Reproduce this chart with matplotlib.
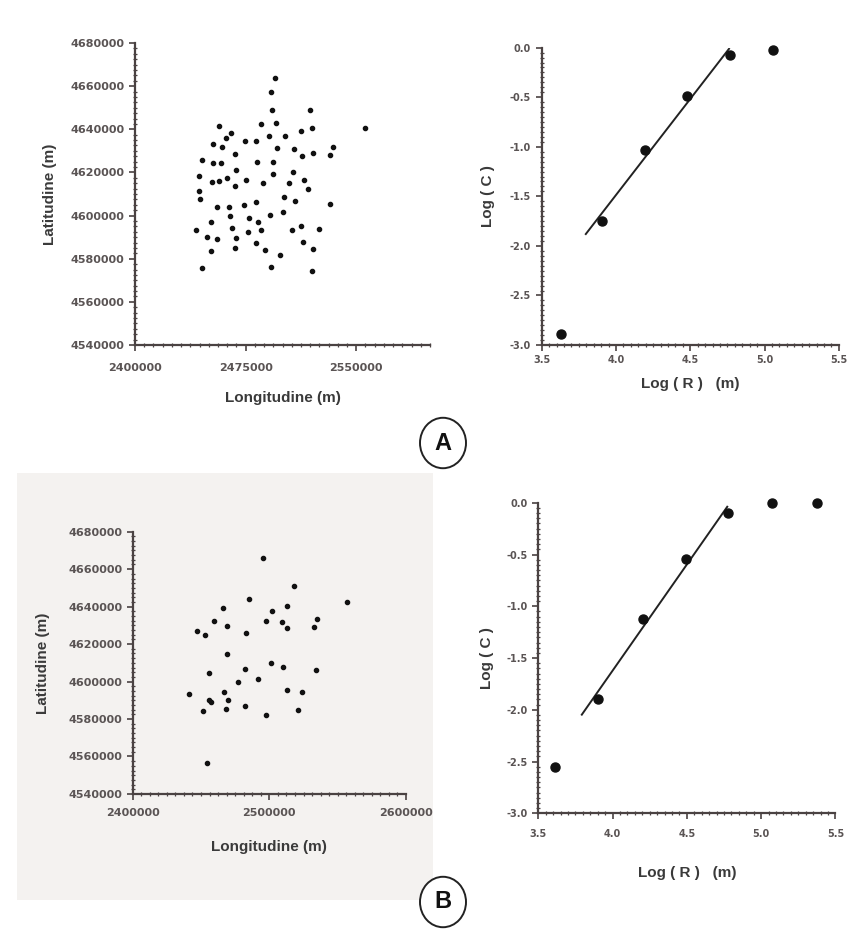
import numpy as np
import matplotlib
matplotlib.use("Agg")
import matplotlib.pyplot as plt
from matplotlib.ticker import AutoMinorLocator, FormatStrFormatter, MultipleLocator
from matplotlib.patches import Rectangle, Circle

plt.rcParams['font.family'] = ['Liberation Sans', 'DejaVu Sans']
plt.rcParams['axes.unicode_minus'] = False

# --- panel A: station positions ---
lon_a = [2494800, 2492300, 2493000, 2518900, 2485600, 2495700, 2457000, 2520000,
         2512600, 2556100, 2465300, 2461500, 2490800, 2502000, 2474800, 2482200,
         2452900, 2459200, 2496400, 2507700, 2534400, 2467600, 2513100, 2520500,
         2532400, 2445700, 2452900, 2458100, 2482900, 2493500, 2468200, 2507000,
         2443500, 2493500, 2452300, 2457000, 2462400, 2475400, 2486700, 2504300,
         2514400, 2468000, 2517600, 2443500, 2444400, 2500700, 2508600, 2482200,
         2473900, 2532400, 2455900, 2463700, 2491200, 2500200, 2464200, 2477200,
         2483300, 2451400, 2441200, 2465800, 2476600, 2485100, 2506300, 2512600,
         2524500, 2448900, 2455900, 2468700, 2481800, 2513700, 2451400, 2468000,
         2487800, 2520500, 2498000, 2445700, 2491900, 2520000]
lat_a = [4663800, 4657300, 4649100, 4649100, 4642600, 4642900, 4641300, 4640700,
         4639300, 4640600, 4638500, 4635900, 4636700, 4636700, 4634700, 4634700,
         4633300, 4631700, 4631300, 4631000, 4632000, 4628600, 4627400, 4629000,
         4628200, 4625900, 4624300, 4624600, 4624800, 4624800, 4621200, 4620400,
         4618400, 4619400, 4615800, 4616100, 4617400, 4616600, 4615300, 4615300,
         4616300, 4613900, 4612200, 4611600, 4607600, 4608800, 4606800, 4606200,
         4605000, 4605400, 4604200, 4604200, 4600300, 4601700, 4599900, 4598800,
         4597200, 4596800, 4593100, 4594100, 4592600, 4593400, 4593400, 4595200,
         4593700, 4590000, 4589200, 4589800, 4587200, 4587800, 4583800, 4584900,
         4584100, 4584400, 4581800, 4575600, 4576400, 4574500]

# --- panel A: correlation integral ---
logr_a = [3.63, 3.905, 4.196, 4.48, 4.767, 5.058]
logc_a = [-2.89, -1.746, -1.03, -0.484, -0.074, -0.024]
fit_idx_a = [1, 2, 3, 4]
fit_range_a = [3.797, 4.761]

# --- panel B: station positions ---
lon_b = [2495200, 2518000, 2556700, 2485000, 2466100, 2512600, 2502100, 2459200,
         2497200, 2508900, 2534600, 2469000, 2513100, 2532700, 2447000, 2452600,
         2483000, 2469000, 2500900, 2510200, 2482500, 2533900, 2455600, 2477100,
         2491800, 2440900, 2466600, 2513100, 2524100, 2455600, 2457300, 2469800,
         2482000, 2451400, 2468500, 2521200, 2497700, 2454400]
lat_b = [4666100, 4651000, 4642300, 4644100, 4639400, 4640500, 4637800, 4632500,
         4632300, 4631600, 4633400, 4629700, 4628400, 4629300, 4627000, 4624900,
         4625700, 4614500, 4609700, 4607600, 4606700, 4606200, 4604400, 4599600,
         4601200, 4593400, 4594600, 4595500, 4594300, 4590200, 4588900, 4590200,
         4587100, 4584500, 4585400, 4584800, 4582200, 4556700]

# --- panel B: correlation integral ---
logr_b = [3.613, 3.902, 4.202, 4.493, 4.776, 5.076, 5.374]
logc_b = [-2.55, -1.90, -1.123, -0.547, -0.103, 0.0, 0.0]
fit_idx_b = [1, 2, 3, 4]
fit_range_b = [3.793, 4.772]

spine_col = '#4a4242'
text_col = '#3a3a3a'
tick_col = '#5a5454'

fig = plt.figure(figsize=(8.49, 9.31), dpi=100)

# light grey card behind the lower map
fig.patches.append(Rectangle((0.02, 0.033), 0.49, 0.459, transform=fig.transFigure,
                             facecolor='#f4f2f0', edgecolor='none', zorder=-1))


def style_axes(ax, labelsize, tick_pad):
    for s in ['top', 'right']:
        ax.spines[s].set_visible(False)
    for s in ['left', 'bottom']:
        ax.spines[s].set_color(spine_col)
        ax.spines[s].set_linewidth(1.6)
    ax.set_facecolor('none')
    ax.tick_params(which='major', direction='out', length=4, width=1.2,
                   colors=spine_col, labelcolor=tick_col, labelsize=labelsize)
    ax.tick_params(which='minor', direction='inout', length=3, width=0.9,
                   colors=spine_col)
    ax.tick_params(axis='x', which='major', pad=tick_pad)
    for lbl in ax.get_xticklabels() + ax.get_yticklabels():
        lbl.set_fontweight('bold')
        lbl.set_family('DejaVu Sans')


def map_panel(ax, lon, lat, xstep, tick_pad, xpad, ypad):
    ax.plot(lon, lat, 'o', color='#111111', ms=3.0, ls='none', clip_on=False)
    ax.set_xlim(2400000, 2600000)
    ax.set_ylim(4540000, 4680000)
    ax.xaxis.set_major_locator(MultipleLocator(xstep))
    ax.yaxis.set_major_locator(MultipleLocator(20000))
    ax.xaxis.set_minor_locator(AutoMinorLocator(12 if xstep == 75000 else 16))
    ax.yaxis.set_minor_locator(AutoMinorLocator(8))
    ax.ticklabel_format(useOffset=False, style='plain')
    style_axes(ax, 8, tick_pad)
    ax.set_xlabel('Longitudine (m)', fontsize=11, fontweight='bold', color=text_col, labelpad=xpad)
    ax.set_ylabel('Latitudine (m)', fontsize=11, fontweight='bold', color=text_col, labelpad=ypad)


def corr_panel(ax, logr, logc, fit_idx, fit_range, tick_pad, xpad, ypad):
    ax.plot(logr, logc, 'o', color='#111111', ms=6.5, ls='none', clip_on=False, zorder=3)
    xs = np.array(logr)[fit_idx]
    ys = np.array(logc)[fit_idx]
    k, b = np.polyfit(xs, ys, 1)
    xf = np.array(fit_range)
    ax.plot(xf, k * xf + b, color='#222222', lw=1.4)
    ax.set_xlim(3.5, 5.5)
    ax.set_ylim(-3.0, 0.0)
    ax.xaxis.set_major_locator(MultipleLocator(0.5))
    ax.yaxis.set_major_locator(MultipleLocator(0.5))
    ax.xaxis.set_minor_locator(AutoMinorLocator(10))
    ax.yaxis.set_minor_locator(AutoMinorLocator(10))
    ax.xaxis.set_major_formatter(FormatStrFormatter('%.1f'))
    ax.yaxis.set_major_formatter(FormatStrFormatter('%.1f'))
    style_axes(ax, 7, tick_pad)
    ax.set_xlabel('Log ( R )   (m)', fontsize=11, fontweight='bold', color=text_col, labelpad=xpad)
    ax.set_ylabel('Log ( C )', fontsize=11, fontweight='bold', color=text_col, labelpad=ypad)


ax1 = fig.add_axes([0.159, 0.6294, 0.3475, 0.3244])
map_panel(ax1, lon_a, lat_a, 75000, 9, 13, 10)

ax2 = fig.add_axes([0.638, 0.6294, 0.350, 0.3194])
corr_panel(ax2, logr_a, logc_a, fit_idx_a, fit_range_a, 3, 9, 11)

ax3 = fig.add_axes([0.1563, 0.1472, 0.3219, 0.2817])
map_panel(ax3, lon_b, lat_b, 100000, 6, 16, 13)

ax4 = fig.add_axes([0.634, 0.1264, 0.350, 0.3336])
corr_panel(ax4, logr_b, logc_b, fit_idx_b, fit_range_b, 7, 20, 9)

# circled panel letters
for letter, (cx, cy) in [('A', (443, 443)), ('B', (443, 902))]:
    fx, fy = cx / 849, 1 - cy / 931
    fig.patches.append(Circle((fx, fy), 23 / 849, transform=fig.transFigure,
                              facecolor='white', edgecolor='#222222', lw=1.4))
    fig.text(fx, fy, letter, ha='center', va='center', fontsize=17,
             fontweight='bold', color='#111111')

fig.savefig('out.png', dpi=100)
